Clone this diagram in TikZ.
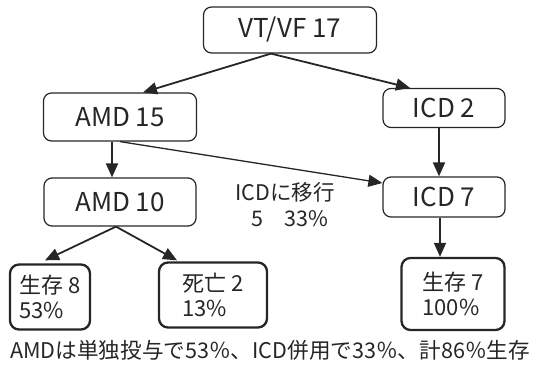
\documentclass[tikz,border=0pt]{standalone}
\usepackage{fontspec}
\setmainfont{Noto Sans CJK JP}
\usepackage{tikz}
\usetikzlibrary{arrows.meta}
\newcommand{\boxfont}{\fontsize{26}{28}\selectfont}
\newcommand{\leaffont}{\fontsize{22}{25}\selectfont}
\newcommand{\notefont}{\fontsize{21.5}{26}\selectfont}
\newcommand{\inkcolor}{black!85}

\begin{document}
\begin{tikzpicture}[x=1pt, y=-1pt,
	stage/.style={draw=\inkcolor, line width=1.2pt, rounded corners=8pt,
		inner sep=0pt, font=\boxfont, text=\inkcolor},
	outcome/.style={draw=\inkcolor, line width=2.3pt, rounded corners=9pt,
		inner sep=0pt, font=\leaffont, text=\inkcolor, align=left},
	flow/.style={draw=\inkcolor, line width=1.8pt,
		-{Triangle[length=14pt, width=12pt]}}]
	\useasboundingbox (0,0) rectangle (538,367);

	\node[stage, minimum width=173pt, minimum height=46pt] (vtvf) at (290,30) {VT/VF 17};
	\node[stage, minimum width=153pt, minimum height=48pt] (amdA) at (120,117) {AMD 15};
	\node[stage, minimum width=122pt, minimum height=39pt] (icdA) at (444,108) {ICD 2};
	\node[stage, minimum width=152pt, minimum height=48pt] (amdB) at (120,202) {AMD 10};
	\node[stage, minimum width=122pt, minimum height=40pt] (icdB) at (444,197) {ICD 7};

	\node[outcome, minimum width=80pt, minimum height=65pt] (liveA) at (50,297)
		{生存 8\\53\%};
	\node[outcome, minimum width=108pt, minimum height=65pt] (dead) at (213,295)
		{死亡 2\\13\%};
	\node[outcome, minimum width=103pt, minimum height=72pt] (liveB) at (453,294)
		{生存 7\\100\%};

	\draw[flow] ([xshift=-19pt]vtvf.south) -- ([xshift=23pt]amdA.north);
	\draw[flow] ([xshift=-19pt]vtvf.south) -- ([xshift=-34pt]icdA.north);
	\draw[flow] ([xshift=-8pt]amdA.south) -- ([xshift=-8pt]amdB.north);
	\draw[flow] ([xshift=-5pt]icdA.south) -- ([xshift=-5pt]icdB.north);
	\draw[flow, line width=1.3pt] (amdA.south) -- ([yshift=14pt]icdB.west);
	\draw[flow] ([xshift=-4pt]amdB.south) -- ([xshift=-5pt, yshift=3pt]liveA.north);
	\draw[flow] ([xshift=-4pt]amdB.south) -- ([xshift=-36pt, yshift=1pt]dead.north);
	\draw[flow] ([xshift=-4pt]icdB.south) -- ([xshift=-13pt]liveB.north);

	\node[font=\notefont, text=\inkcolor, align=center] (shift) at (285,205)
		{ICDに移行\\\ \ 5\quad 33\%};
	\node[font=\fontsize{21.6}{26}\selectfont, text=\inkcolor] (summary) at (270,350)
		{AMDは単独投与で53％、ICD併用で33％、計86％生存};
\end{tikzpicture}
\end{document}
